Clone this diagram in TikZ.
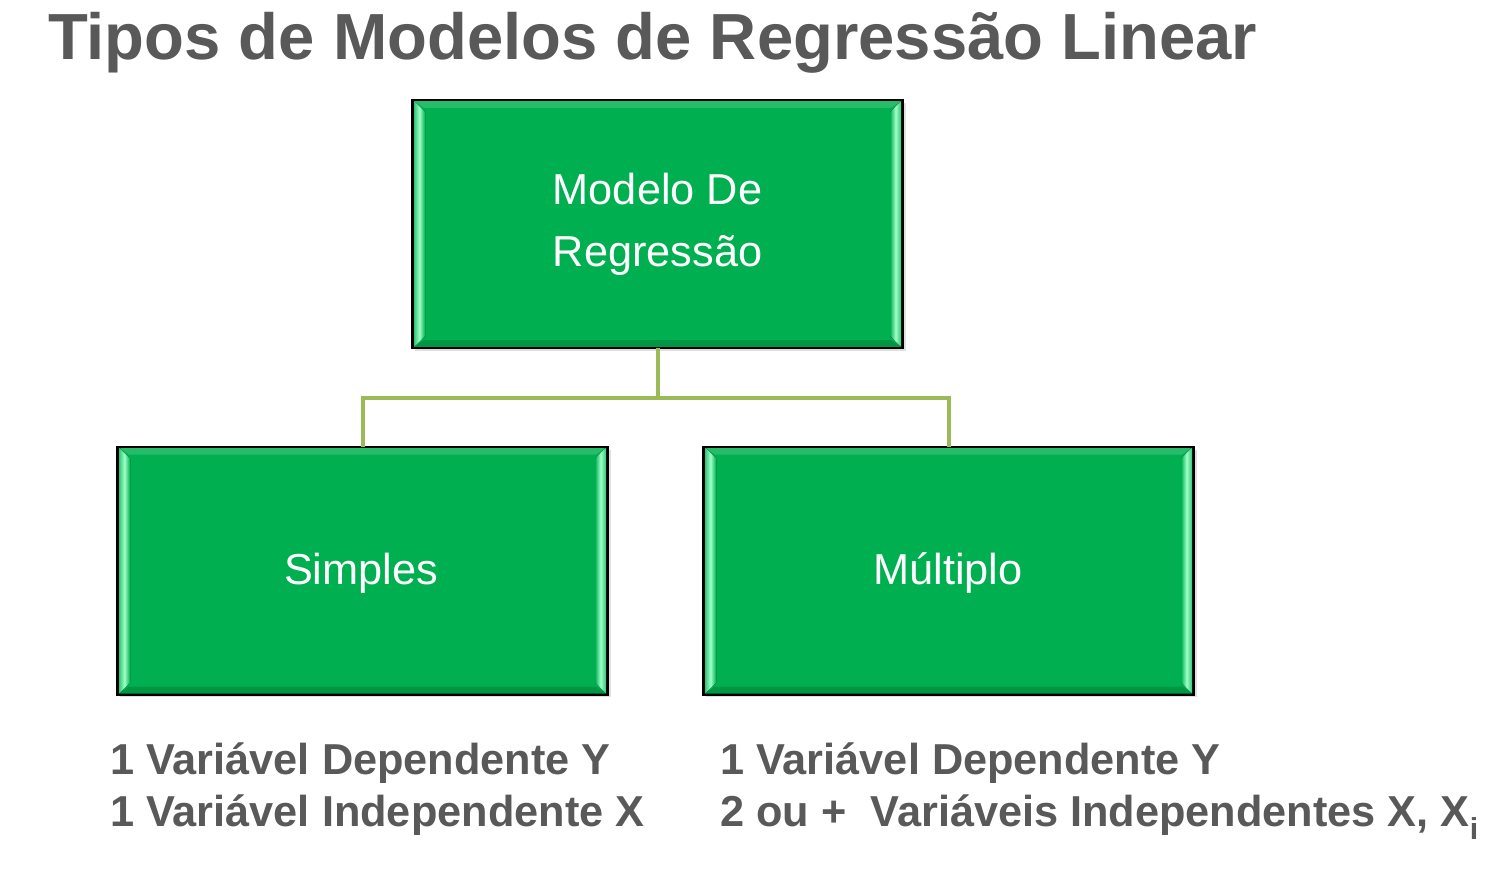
\documentclass[tikz,border=0pt]{standalone}
\usepackage{fontspec}
\setmainfont{Liberation Sans}
\usetikzlibrary{calc}
\definecolor{boxgreen}{HTML}{00B050}
\definecolor{bevlight}{HTML}{A0FFC8}
\definecolor{bevedge}{HTML}{30C878}
\definecolor{linkgreen}{HTML}{9BBB59}
\definecolor{txtgray}{HTML}{595959}
\tikzset{
  greenbox/.style={draw=black, line width=2pt, fill=boxgreen, minimum width=489pt, minimum height=246pt, inner sep=0pt},
  boxtext/.style={anchor=base, text=white, font=\fontsize{43.3}{62}\selectfont, inner sep=0pt},
  link/.style={draw=linkgreen, line width=4pt},
  title/.style={anchor=base west, inner sep=0pt, text=txtgray, font=\fontsize{65.2}{70}\bfseries\selectfont},
  note/.style={anchor=base west, inner sep=0pt, text=txtgray, font=\fontsize{43.3}{52}\bfseries\selectfont, align=left}
}
\newcommand{\bevel}[1]{%
  \fill[left color=bevedge, right color=boxgreen, middle color=bevlight]
    ($(#1.north west)+(2,1)$) -- ($(#1.north west)+(13,12)$) -- ($(#1.south west)+(13,-12)$) -- ($(#1.south west)+(2,-1)$) -- cycle;
  \fill[right color=bevedge, left color=boxgreen, middle color=bevlight]
    ($(#1.north east)+(-2,1)$) -- ($(#1.north east)+(-13,12)$) -- ($(#1.south east)+(-13,-12)$) -- ($(#1.south east)+(-2,-1)$) -- cycle;
  \fill[boxgreen!85!white]
    ($(#1.north west)+(2,1)$) -- ($(#1.north east)+(-2,1)$) -- ($(#1.north east)+(-12,8)$) -- ($(#1.north west)+(12,8)$) -- cycle;
  \fill[boxgreen!85!black]
    ($(#1.south west)+(2,-1)$) -- ($(#1.south east)+(-2,-1)$) -- ($(#1.south east)+(-12,-8)$) -- ($(#1.south west)+(12,-8)$) -- cycle;
  \draw[black, line width=2pt] (#1.north west) rectangle (#1.south east);
}
\begin{document}
\begin{tikzpicture}[x=1pt,y=-1pt]
\useasboundingbox (0,0) rectangle (1504,880);
\node[title] (t) at (48,60) {Tipos de Modelos de Regressão Linear};

\fill[black!12] (415,103) rectangle (906,351);
\fill[black!12] (120,450) rectangle (611,697);
\fill[black!12] (706,450) rectangle (1197,697);

\node[greenbox] (top) at (657.5,224) {};
\node[greenbox] (left) at (362.5,570.5) {};
\node[greenbox] (right) at (948.5,570.5) {};
\bevel{top}
\bevel{left}
\bevel{right}
\node[boxtext] (toptxt1) at (657.5,204) {Modelo De};
\node[boxtext] (toptxt2) at (657.5,266) {Regressão};
\node[boxtext] (lefttxt) at (361,584) {Simples};
\node[boxtext] (righttxt) at (948,584) {Múltiplo};

\coordinate (j) at (657.5,398);
\draw[link] (top.south) -- (j);
\draw[link] (j) -| (left.north);
\draw[link] (j) -| (right.north);

\node[note] (n1a) at (110,774) {1 Variável Dependente Y};
\node[note] (n1b) at (110,826) {1 Variável Independente X};
\node[note] (n2a) at (720,774) {1 Variável Dependente Y};
\node[note] (n2b) at (720,826) {2 ou +\ \ Variáveis Independentes X, X\textsubscript{i}};
\end{tikzpicture}
\end{document}
